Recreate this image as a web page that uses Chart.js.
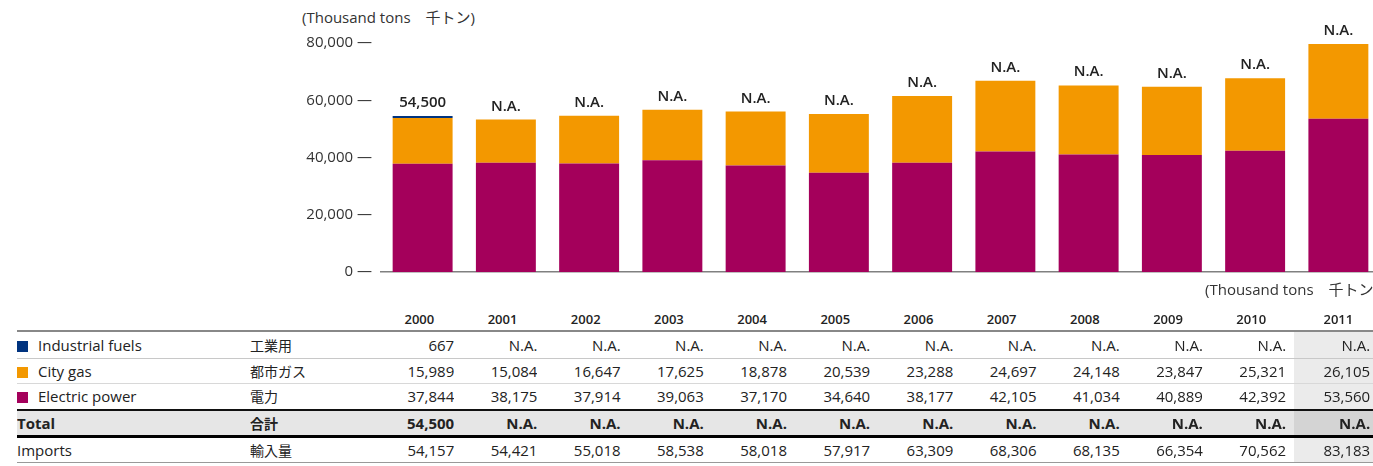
<!DOCTYPE html>
<html>
<head>
<meta charset="utf-8">
<script src="https://cdn.jsdelivr.net/npm/chart.js@4"></script>
<style>
  body { margin: 0; width: 1373px; height: 466px; overflow: hidden; position: relative; background: #fff;
         font-family: "Open Sans", "Noto Sans CJK JP", sans-serif; color: #222; }
  .unit { position: absolute; font-size: 15px; color: #333; white-space: nowrap; }
  #wrap { position: absolute; left: 0; top: 0; width: 1380px; height: 300px; }
  table { position: absolute; left: 17px; top: 308px; border-collapse: separate; border-spacing: 0; table-layout: fixed; font-size: 15px; }
  td { padding: 0; white-space: nowrap; overflow: hidden; }
  td.num { text-align: right; }
  .jp { font-family: "Noto Sans CJK JP", sans-serif; font-size: 14px; }
  .sw { display: inline-block; width: 11px; height: 11px; margin-right: 10px; vertical-align: -1px; }
  tr.head td { line-height: 22px; font-size: 13px; font-weight: 600; border-bottom: 2px solid #888; }
  tr.head td.num { padding-right: 20px; }
  tr.r1 td { line-height: 26px; border-bottom: 1px solid #c8c8c8; }
  tr.r2 td { line-height: 24px; border-bottom: 1px solid #d8d8d8; }
  tr.r3 td { line-height: 25px; border-bottom: 2px solid #111; }
  tr.tot td { line-height: 24px; border-bottom: 3px solid #000; background: #e6e6e6; font-weight: 700; }
  tr.imp td { line-height: 24px; border-bottom: 1px solid #999; }
  td.last { background: linear-gradient(to right, transparent 8px, #ebebeb 8px); }
  tr.tot td.last { background: linear-gradient(to right, #e6e6e6 8px, #d4d4d4 8px); }
  tr.head td.last { background: none; }
</style>
</head>
<body>
<div class="unit" style="left:302px; top:6px;">(Thousand tons　千トン)</div>
<div id="wrap"><canvas id="chart" width="1380" height="300"></canvas></div>
<div class="unit" style="left:1205px; top:278px;">(Thousand tons　千トン)</div>
<table id="tbl"></table>
<script>
const years = ['2000', '2001', '2002', '2003', '2004', '2005', '2006', '2007', '2008', '2009', '2010', '2011'];
const industrialFuels = [667, null, null, null, null, null, null, null, null, null, null, null];
const cityGas = [15989, 15084, 16647, 17625, 18878, 20539, 23288, 24697, 24148, 23847, 25321, 26105];
const electricPower = [37844, 38175, 37914, 39063, 37170, 34640, 38177, 42105, 41034, 40889, 42392, 53560];
const totals = [54500, null, null, null, null, null, null, null, null, null, null, null];
const imports = [54157, 54421, 55018, 58538, 58018, 57917, 63309, 68306, 68135, 66354, 70562, 83183];
const yTicks = [0, 20000, 40000, 60000, 80000];

const colors = { industrial: '#00337f', city: '#f39800', electric: '#a4005b' };

const fmt = v => v == null ? 'N.A.' : v.toLocaleString('en-US');

// labels above each stack: total or N.A.
const totalLabels = {
  id: 'totalLabels',
  afterDatasetsDraw(chart) {
    const c = chart.ctx;
    c.save();
    c.font = '600 15px "Open Sans", sans-serif';
    c.fillStyle = '#222';
    c.textAlign = 'center';
    c.textBaseline = 'alphabetic';
    years.forEach((y, i) => {
      let top = Infinity, x = 0;
      chart.data.datasets.forEach((ds, d) => {
        if (ds.data[i] == null) return;
        const el = chart.getDatasetMeta(d).data[i];
        if (el.y < top) { top = el.y; x = el.x; }
      });
      c.fillText(fmt(totals[i]), x, top - 9);
    });
    c.restore();
  }
};

new Chart(document.getElementById('chart'), {
  type: 'bar',
  data: {
    labels: years,
    datasets: [
      { label: 'Electric power', data: electricPower, backgroundColor: colors.electric },
      { label: 'City gas', data: cityGas, backgroundColor: colors.city },
      { label: 'Industrial fuels', data: industrialFuels, backgroundColor: colors.industrial }
    ]
  },
  options: {
    responsive: false,
    devicePixelRatio: 1,
    animation: false,
    layout: { padding: { top: 43, bottom: 28, left: 0, right: 0 } },
    datasets: { bar: { barPercentage: 0.72, categoryPercentage: 1 } },
    plugins: { legend: { display: false }, tooltip: { enabled: false } },
    scales: {
      x: {
        stacked: true,
        grid: { display: false, drawTicks: false },
        ticks: { display: false },
        border: { color: '#808080', width: 1.5 },
        afterFit: s => { s.height = 0; }
      },
      y: {
        stacked: true,
        min: 0, max: 80000,
        afterBuildTicks: s => { s.ticks = yTicks.map(v => ({ value: v })); },
        grid: { display: false, drawTicks: false },
        border: { display: false },
        ticks: {
          padding: 9,
          color: '#333',
          font: { family: '"Open Sans", sans-serif', size: 15 },
          callback: v => v.toLocaleString('en-US') + ' —'
        },
        afterFit: s => { s.width = 381; }
      }
    }
  },
  plugins: [totalLabels]
});

// data table under the chart
const rows = [
  { cls: 'r1', en: 'Industrial fuels', jp: '工業用', sw: colors.industrial, vals: industrialFuels },
  { cls: 'r2', en: 'City gas', jp: '都市ガス', sw: colors.city, vals: cityGas },
  { cls: 'r3', en: 'Electric power', jp: '電力', sw: colors.electric, vals: electricPower },
  { cls: 'tot', en: 'Total', jp: '合計', vals: totals },
  { cls: 'imp', en: 'Imports', jp: '輸入量', vals: imports }
];
const colW = [233, 121].concat(years.map((y, i) => i === years.length - 1 ? 87 : 83.2));
let html = '<colgroup>' + colW.map(w => `<col style="width:${w}px">`).join('') + '</colgroup>';
html += '<tr class="head"><td></td><td></td>' +
  years.map((y, i) => `<td class="num${i === years.length - 1 ? ' last' : ''}">${y}</td>`).join('') + '</tr>';
rows.forEach(r => {
  const sw = r.sw ? `<span class="sw" style="background:${r.sw}"></span>` : '';
  html += `<tr class="${r.cls}"><td>${sw}${r.en}</td><td class="jp">${r.jp}</td>` +
    r.vals.map((v, i) => `<td class="num${i === years.length - 1 ? ' last' : ''}" style="padding-right:${i === years.length - 1 ? 3 : 0}px">${fmt(v)}</td>`).join('') + '</tr>';
});
const tbl = document.getElementById('tbl');
tbl.innerHTML = html;
tbl.style.width = colW.reduce((a, b) => a + b, 0) + 'px';
</script>
</body>
</html>
